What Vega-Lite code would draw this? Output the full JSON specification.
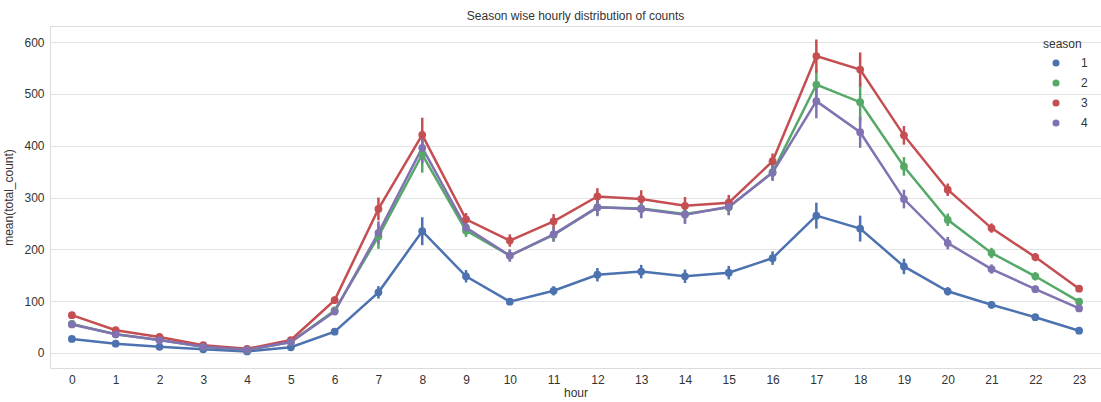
{
  "$schema": "https://vega.github.io/schema/vega-lite/v6.json",
  "width": 1051,
  "height": 342,
  "autosize": {"type": "none"},
  "padding": {"left": 50, "top": 26, "right": 0, "bottom": 34},
  "background": "white",
  "title": {"text": "Season wise hourly distribution of counts", "fontSize": 12, "font": "Liberation Sans", "fontWeight": "normal", "color": "#333333", "offset": 3},
  "config": {
    "view": {"stroke": "#dcdcdc", "strokeWidth": 1},
    "font": "Liberation Sans",
    "axis": {"labelFont": "Liberation Sans", "titleFont": "Liberation Sans", "labelFontSize": 12, "titleFontSize": 12, "labelColor": "#333333", "titleColor": "#333333", "titleFontWeight": "normal", "ticks": false, "domain": false, "gridColor": "#e3e3e3", "gridWidth": 1.2}
  },
  "data": {"values": [
    {"hour":0,"season":"1","mean":27,"lo":24,"hi":30},{"hour":1,"season":"1","mean":18,"lo":16,"hi":20},{"hour":2,"season":"1","mean":12,"lo":10,"hi":14},{"hour":3,"season":"1","mean":7,"lo":6,"hi":8},{"hour":4,"season":"1","mean":3,"lo":2,"hi":4},{"hour":5,"season":"1","mean":11,"lo":9,"hi":13},{"hour":6,"season":"1","mean":41,"lo":37,"hi":45},{"hour":7,"season":"1","mean":117,"lo":105,"hi":129},{"hour":8,"season":"1","mean":235,"lo":208,"hi":262},{"hour":9,"season":"1","mean":148,"lo":136,"hi":160},{"hour":10,"season":"1","mean":99,"lo":93,"hi":105},{"hour":11,"season":"1","mean":120,"lo":111,"hi":129},{"hour":12,"season":"1","mean":151,"lo":138,"hi":164},{"hour":13,"season":"1","mean":157,"lo":144,"hi":170},{"hour":14,"season":"1","mean":148,"lo":135,"hi":161},{"hour":15,"season":"1","mean":155,"lo":142,"hi":168},{"hour":16,"season":"1","mean":183,"lo":170,"hi":196},{"hour":17,"season":"1","mean":265,"lo":240,"hi":290},{"hour":18,"season":"1","mean":240,"lo":215,"hi":265},{"hour":19,"season":"1","mean":167,"lo":152,"hi":182},{"hour":20,"season":"1","mean":119,"lo":111,"hi":127},{"hour":21,"season":"1","mean":93,"lo":86,"hi":100},{"hour":22,"season":"1","mean":69,"lo":64,"hi":74},{"hour":23,"season":"1","mean":43,"lo":39,"hi":47},
    {"hour":0,"season":"2","mean":56,"lo":51,"hi":61},{"hour":1,"season":"2","mean":36,"lo":32,"hi":40},{"hour":2,"season":"2","mean":25,"lo":22,"hi":28},{"hour":3,"season":"2","mean":12,"lo":10,"hi":14},{"hour":4,"season":"2","mean":6,"lo":5,"hi":7},{"hour":5,"season":"2","mean":21,"lo":18,"hi":24},{"hour":6,"season":"2","mean":82,"lo":75,"hi":89},{"hour":7,"season":"2","mean":225,"lo":201,"hi":249},{"hour":8,"season":"2","mean":383,"lo":348,"hi":418},{"hour":9,"season":"2","mean":236,"lo":224,"hi":248},{"hour":10,"season":"2","mean":188,"lo":178,"hi":198},{"hour":11,"season":"2","mean":228,"lo":215,"hi":241},{"hour":12,"season":"2","mean":281,"lo":265,"hi":297},{"hour":13,"season":"2","mean":279,"lo":262,"hi":296},{"hour":14,"season":"2","mean":268,"lo":251,"hi":285},{"hour":15,"season":"2","mean":281,"lo":266,"hi":296},{"hour":16,"season":"2","mean":349,"lo":334,"hi":364},{"hour":17,"season":"2","mean":518,"lo":490,"hi":546},{"hour":18,"season":"2","mean":484,"lo":446,"hi":522},{"hour":19,"season":"2","mean":360,"lo":342,"hi":378},{"hour":20,"season":"2","mean":257,"lo":245,"hi":269},{"hour":21,"season":"2","mean":193,"lo":183,"hi":203},{"hour":22,"season":"2","mean":148,"lo":140,"hi":156},{"hour":23,"season":"2","mean":99,"lo":93,"hi":105},
    {"hour":0,"season":"3","mean":73,"lo":68,"hi":78},{"hour":1,"season":"3","mean":44,"lo":40,"hi":48},{"hour":2,"season":"3","mean":31,"lo":28,"hi":34},{"hour":3,"season":"3","mean":15,"lo":13,"hi":17},{"hour":4,"season":"3","mean":8,"lo":7,"hi":9},{"hour":5,"season":"3","mean":25,"lo":22,"hi":28},{"hour":6,"season":"3","mean":102,"lo":95,"hi":109},{"hour":7,"season":"3","mean":278,"lo":256,"hi":300},{"hour":8,"season":"3","mean":421,"lo":388,"hi":454},{"hour":9,"season":"3","mean":258,"lo":246,"hi":270},{"hour":10,"season":"3","mean":217,"lo":205,"hi":229},{"hour":11,"season":"3","mean":254,"lo":240,"hi":268},{"hour":12,"season":"3","mean":302,"lo":286,"hi":318},{"hour":13,"season":"3","mean":297,"lo":280,"hi":314},{"hour":14,"season":"3","mean":284,"lo":267,"hi":301},{"hour":15,"season":"3","mean":290,"lo":275,"hi":305},{"hour":16,"season":"3","mean":370,"lo":355,"hi":385},{"hour":17,"season":"3","mean":573,"lo":541,"hi":605},{"hour":18,"season":"3","mean":547,"lo":514,"hi":580},{"hour":19,"season":"3","mean":420,"lo":402,"hi":438},{"hour":20,"season":"3","mean":315,"lo":303,"hi":327},{"hour":21,"season":"3","mean":241,"lo":232,"hi":250},{"hour":22,"season":"3","mean":185,"lo":177,"hi":193},{"hour":23,"season":"3","mean":124,"lo":118,"hi":130},
    {"hour":0,"season":"4","mean":55,"lo":50,"hi":60},{"hour":1,"season":"4","mean":36,"lo":32,"hi":40},{"hour":2,"season":"4","mean":25,"lo":22,"hi":28},{"hour":3,"season":"4","mean":12,"lo":10,"hi":14},{"hour":4,"season":"4","mean":6,"lo":5,"hi":7},{"hour":5,"season":"4","mean":21,"lo":18,"hi":24},{"hour":6,"season":"4","mean":80,"lo":74,"hi":86},{"hour":7,"season":"4","mean":232,"lo":210,"hi":254},{"hour":8,"season":"4","mean":396,"lo":366,"hi":426},{"hour":9,"season":"4","mean":242,"lo":230,"hi":254},{"hour":10,"season":"4","mean":188,"lo":176,"hi":200},{"hour":11,"season":"4","mean":229,"lo":215,"hi":243},{"hour":12,"season":"4","mean":281,"lo":264,"hi":298},{"hour":13,"season":"4","mean":278,"lo":260,"hi":296},{"hour":14,"season":"4","mean":267,"lo":249,"hi":285},{"hour":15,"season":"4","mean":282,"lo":266,"hi":298},{"hour":16,"season":"4","mean":348,"lo":332,"hi":364},{"hour":17,"season":"4","mean":486,"lo":453,"hi":519},{"hour":18,"season":"4","mean":426,"lo":396,"hi":456},{"hour":19,"season":"4","mean":297,"lo":279,"hi":315},{"hour":20,"season":"4","mean":212,"lo":200,"hi":224},{"hour":21,"season":"4","mean":162,"lo":153,"hi":171},{"hour":22,"season":"4","mean":123,"lo":116,"hi":130},{"hour":23,"season":"4","mean":86,"lo":81,"hi":91}
  ]},
  "encoding": {
    "x": {"field": "hour", "type": "ordinal", "scale": {"type": "point", "padding": 0.5}, "axis": {"labelAngle": 0, "labelPadding": 6, "titlePadding": 2, "grid": false, "title": "hour"}},
    "color": {"field": "season", "type": "nominal", "scale": {"domain": ["1","2","3","4"], "range": ["#4C72B0","#55A868","#C44E52","#8172B2"]}, "legend": {"orient": "none", "legendX": 993, "legendY": 13, "title": "season", "titleFontSize": 12, "titleFontWeight": "normal", "titleColor": "#333333", "titlePadding": 6, "labelFontSize": 12, "labelColor": "#333333", "labelOffset": 19, "symbolOffset": 7, "symbolSize": 50, "symbolType": "circle", "symbolStrokeWidth": 0, "rowPadding": 8, "padding": 0, "encode": {"symbols": {"update": {"fill": {"scale": "color", "field": "value"}, "fillOpacity": {"value": 1}}}}}}
  },
  "layer": [
    {
      "mark": {"type": "rule", "strokeWidth": 2.5},
      "encoding": {
        "y": {"field": "lo", "type": "quantitative", "scale": {"domain": [-29, 631], "nice": false, "zero": false}, "axis": {"values": [0,100,200,300,400,500,600], "labelPadding": 6, "titlePadding": 8, "title": "mean(total_count)", "grid": true}},
        "y2": {"field": "hi"}
      }
    },
    {
      "mark": {"type": "line", "strokeWidth": 2.5},
      "encoding": {
        "y": {"field": "mean", "type": "quantitative"}
      }
    },
    {
      "mark": {"type": "point", "filled": true, "opacity": 1, "size": 60, "shape": "circle"},
      "encoding": {
        "y": {"field": "mean", "type": "quantitative"}
      }
    }
  ]
}
